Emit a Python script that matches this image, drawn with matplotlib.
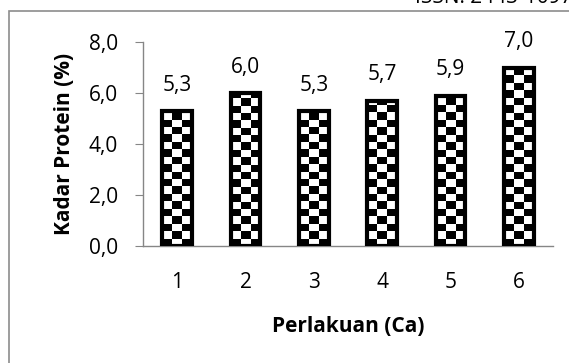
import numpy as np
import matplotlib
matplotlib.use("Agg")
import matplotlib.pyplot as plt
from matplotlib.patches import Rectangle

# data
perlakuan = ["1", "2", "3", "4", "5", "6"]
kadar_protein = [5.3, 6.0, 5.3, 5.7, 5.9, 7.0]
yticks = [0.0, 2.0, 4.0, 6.0, 8.0]

plt.rcParams['font.family'] = ['Open Sans', 'DejaVu Sans']

W, H = 569, 363
fig = plt.figure(figsize=(W / 100, H / 100), dpi=100)

# outer chart frame (cut off on the right and bottom)
fig.patches.append(Rectangle((9 / W, -0.1), 1.2, 1 - 11 / H + 0.1,
                             transform=fig.transFigure, fill=False,
                             edgecolor="#8c8c8c", linewidth=1.2))
fig.text(415 / W, 1 - 3 / H, "ISSN: 2443-1097", fontsize=15,
         va="baseline", ha="left", color="black")

ax = fig.add_axes([143 / W, 1 - 246 / H, (553 - 143) / W, (246 - 42) / H])

x = np.arange(len(perlakuan))
bar_w = 0.43
bars = ax.bar(x, kadar_protein, width=bar_w, facecolor="none",
              edgecolor="black", linewidth=3.0, zorder=3)

# checkerboard fill, clipped to every bar
cell = 0.29
for rect in bars:
    bx, by = rect.get_x(), rect.get_y()
    bw, bh = rect.get_width(), rect.get_height()
    nrows = int(np.ceil(bh / cell))
    board = np.indices((nrows, 3)).sum(axis=0) % 2
    im = ax.imshow(board, cmap="gray", interpolation="nearest", aspect="auto",
                   extent=(bx, bx + bw, by, by + nrows * cell),
                   origin="lower", zorder=2)
    im.set_clip_path(rect)

for xi, v in zip(x, kadar_protein):
    ax.annotate(f"{v:.1f}".replace(".", ","), (xi, v), xytext=(0, 11),
                textcoords="offset points", ha="center", va="bottom",
                fontsize=15)

ax.set_xlim(-0.5, len(perlakuan) - 0.5)
ax.set_ylim(0, 8)
ax.set_xticks(x)
ax.set_xticklabels(perlakuan)
ax.set_yticks(yticks)
ax.set_yticklabels([f"{t:.1f}".replace(".", ",") for t in yticks])

for s in ["top", "right"]:
    ax.spines[s].set_visible(False)
for s in ["left", "bottom"]:
    ax.spines[s].set_color("#868686")
    ax.spines[s].set_linewidth(1.0)
ax.tick_params(axis="y", length=6, color="#868686", pad=12, labelsize=15)
ax.tick_params(axis="x", length=0, pad=19, labelsize=15)

ax.set_xlabel("Perlakuan (Ca)", fontsize=15, fontweight="bold", labelpad=16)
ax.set_ylabel("Kadar Protein (%)", fontsize=15, fontweight="bold", labelpad=10)

plt.savefig("out.png", dpi=100)
